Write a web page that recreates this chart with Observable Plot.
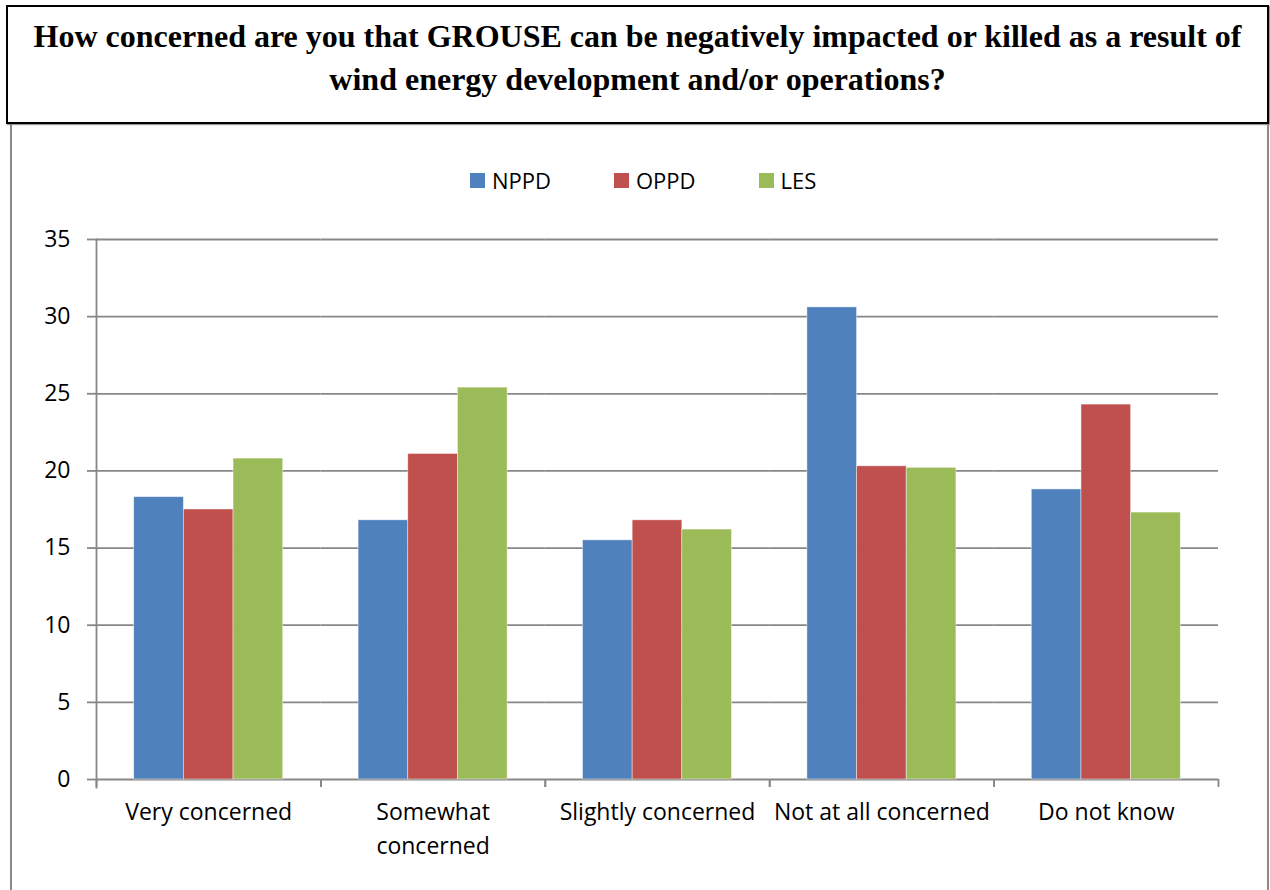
<!DOCTYPE html>
<html>
<head>
<meta charset="utf-8">
<script src="https://cdn.jsdelivr.net/npm/d3@7"></script>
<script src="https://cdn.jsdelivr.net/npm/@observablehq/plot@0.6"></script>
<style>
  html, body { margin: 0; padding: 0; background: #fff; }
  body { width: 1270px; height: 890px; position: relative; overflow: hidden; }
  #title {
    position: absolute; left: 6px; top: 5px; width: 1263px; height: 119px;
    box-sizing: border-box; border: 2px solid #000;
    box-shadow: 1px 1px 1px #999;
    font-family: "Liberation Serif", "Times New Roman", serif; font-weight: bold;
    font-size: 32px; line-height: 43px; text-align: center; padding-top: 8px; color: #000;
  }
  #panel {
    position: absolute; left: 10px; top: 124px; width: 1259px; height: 780px;
    box-sizing: border-box; border-left: 2px solid #8a8a8a; border-right: 2px solid #8a8a8a;
  }
  #legend {
    position: absolute; left: 470px; top: 166px; height: 28px;
    display: flex; align-items: center; gap: 63px;
    font-family: "Open Sans", sans-serif; font-size: 22px; color: #000;
  }
  #legend .item { display: flex; align-items: center; gap: 7px; }
  #legend .sw { width: 15px; height: 15px; display: inline-block; }
  #chart { position: absolute; left: 0; top: 200px; }
</style>
</head>
<body>
<div id="title">How concerned are you that GROUSE can be negatively impacted or killed as a result of<br>wind energy development and/or operations?</div>
<div id="panel"></div>
<div id="legend"></div>
<div id="chart"></div>
<script>
// ---- data ----
const categories = ["Very concerned", "Somewhat concerned", "Slightly concerned", "Not at all concerned", "Do not know"];
const categoryLabels = ["Very concerned", "Somewhat\nconcerned", "Slightly concerned", "Not at all concerned", "Do not know"];
const seriesNames = ["NPPD", "OPPD", "LES"];
const nppd = [18.3, 16.8, 15.5, 30.6, 18.8];
const oppd = [17.5, 21.1, 16.8, 20.3, 24.3];
const les  = [20.8, 25.4, 16.2, 20.2, 17.3];
const yTicks = [0, 5, 10, 15, 20, 25, 30, 35];
const seriesColors = ["#4F81BD", "#C0504D", "#9BBB59"];

const seriesValues = [nppd, oppd, les];
const data = [];
categories.forEach((c, i) => {
  seriesNames.forEach((s, j) => data.push({category: c, series: s, value: seriesValues[j][i]}));
});

// ---- layout ----
const W = 1270, H = 690, ML = 96, MR = 52, MT = 39, MB = 111;
const padInner = 0.336, padOuter = padInner / 2;
const step = (W - ML - MR) / categories.length;
const half = step * padInner / 2;
const gridColor = "#878787";

// legend (HTML)
const legend = document.getElementById("legend");
seriesNames.forEach((s, j) => {
  const item = document.createElement("div");
  item.className = "item";
  const sw = document.createElement("span");
  sw.className = "sw"; sw.style.background = seriesColors[j];
  const t = document.createElement("span"); t.textContent = s;
  item.appendChild(sw); item.appendChild(t);
  legend.appendChild(item);
});

const chart = Plot.plot({
  width: W, height: H,
  marginLeft: ML, marginRight: MR, marginTop: MT, marginBottom: MB,
  style: {fontFamily: "'Open Sans', sans-serif", fontSize: "23px", color: "#000", background: "transparent", overflow: "visible"},
  fx: {domain: categories, paddingInner: padInner, paddingOuter: padOuter, round: false, axis: null, label: null},
  x: {domain: seriesNames, padding: 0, round: false, axis: null, label: null},
  y: {domain: [0, 35], axis: null, label: null},
  color: {domain: seriesNames, range: seriesColors},
  marks: [
    Plot.ruleY(yTicks, {y: d => d, stroke: gridColor, strokeWidth: 1.8, insetLeft: -half, insetRight: -half}),
    Plot.barY(data, {fx: "category", x: "series", y: "value", fill: "series", stroke: "#fff", strokeWidth: 0.8, strokeOpacity: 0.55}),
    Plot.axisY({ticks: yTicks, tickSize: 9, tickPadding: 17, dx: -half, stroke: gridColor, strokeWidth: 1.8, fill: "#000", fontSize: 23, label: null}),
    Plot.frame({anchor: "left", facetAnchor: "left", dx: -half, insetBottom: -8, stroke: gridColor, strokeWidth: 1.8}),
    Plot.axisFx({anchor: "bottom", tickSize: 8, tickFormat: () => "", dx: -step / 2, stroke: gridColor, strokeWidth: 1.8, label: null}),
    Plot.axisFx({anchor: "bottom", tickSize: 8, tickFormat: () => "", dx: step / 2, stroke: gridColor, strokeWidth: 1.8, label: null}),
    Plot.axisFx({anchor: "bottom", tickSize: 0, tickPadding: 16, lineHeight: 1.5, fontSize: 23, fill: "#000", label: null,
      tickFormat: d => categoryLabels[categories.indexOf(d)]})
  ]
});
document.getElementById("chart").appendChild(chart);
</script>
</body>
</html>
